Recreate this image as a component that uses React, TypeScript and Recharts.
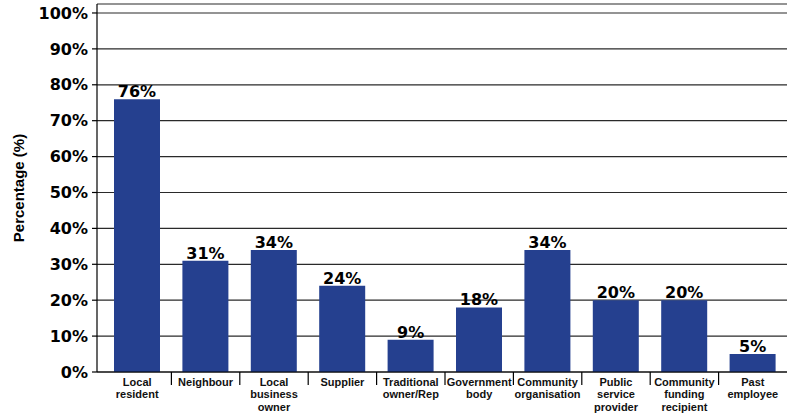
import React from 'react';
import { BarChart, Bar, XAxis, YAxis, CartesianGrid, LabelList } from 'recharts';

const categories = [
  'Local\nresident',
  'Neighbour',
  'Local\nbusiness\nowner',
  'Supplier',
  'Traditional\nowner/Rep',
  'Government\nbody',
  'Community\norganisation',
  'Public\nservice\nprovider',
  'Community\nfunding\nrecipient',
  'Past\nemployee',
];
const percentages = [76, 31, 34, 24, 9, 18, 34, 20, 20, 5];
const yTicks = [0, 10, 20, 30, 40, 50, 60, 70, 80, 90, 100];

const data = categories.map((c, i) => ({ category: c, value: percentages[i] }));

const W = 792;
const H = 414;
const MARGIN = { top: 4, right: 5, bottom: 12, left: 0 };
const X_HEIGHT = 30;
const Y_WIDTH = 97;
const PAD_LEFT = 6;
const BAND = (W - MARGIN.left - MARGIN.right - Y_WIDTH - PAD_LEFT) / categories.length;

const XTick = (props: any) => {
  const { x, y, payload, index } = props;
  const lines = String(payload.value).split('\n');
  return (
    <g>
      {index < categories.length - 1 && (
        <line x1={x + BAND / 2} x2={x + BAND / 2} y1={y} y2={y + 13} stroke="#000" strokeWidth={1.2} />
      )}
      <text
        x={x}
        y={y}
        textAnchor="middle"
        fontFamily="'Liberation Sans', Arial, sans-serif"
        fontWeight="bold"
        fontSize={11}
        fill="#111"
      >
        {lines.map((l: string, i: number) => (
          <tspan key={i} x={x} dy={i === 0 ? 14 : 12.4}>
            {l}
          </tspan>
        ))}
      </text>
    </g>
  );
};

const YTitle = () => {
  const cx = 18.5;
  const cy = 188;
  return (
    <text
      x={cx}
      y={cy}
      transform={`rotate(-90, ${cx}, ${cy})`}
      textAnchor="middle"
      dominantBaseline="central"
      fontFamily="'Liberation Sans', Arial, sans-serif"
      fontWeight="bold"
      fontSize={15}
      fill="#000"
    >
      Percentage (%)
    </text>
  );
};

export default function App() {
  return (
    <div style={{ position: 'absolute', left: 0, top: 0, width: W, height: H, background: '#fff' }}>
      <BarChart width={W} height={H} data={data} margin={MARGIN}>
        <CartesianGrid horizontal vertical={false} stroke="#2a2a2a" strokeWidth={1.2} />
        <XAxis
          dataKey="category"
          height={X_HEIGHT}
          interval={0}
          tick={<XTick />}
          tickLine={false}
          tickSize={0}
          tickMargin={0}
          axisLine={{ stroke: '#000', strokeWidth: 1.2 }}
          padding={{ left: PAD_LEFT, right: 0 }}
        />
        <YAxis
          width={Y_WIDTH}
          domain={[0, 102.5]}
          ticks={yTicks}
          interval={0}
          tickFormatter={(v: number) => `${v}%`}
          tickSize={5}
          tickMargin={4}
          tickLine={{ stroke: '#000', strokeWidth: 1.2 }}
          axisLine={{ stroke: '#000', strokeWidth: 1.2 }}
          tick={{ fontFamily: "'DejaVu Sans', sans-serif", fontWeight: 'bold', fontSize: 16, fill: '#000' }}
          label={<YTitle />}
        />
        <Bar dataKey="value" fill="#25408f" barSize={46} isAnimationActive={false}>
          <LabelList
            dataKey="value"
            position="top"
            offset={2}
            formatter={(v: any) => `${v}%`}
            style={{ fontFamily: "'DejaVu Sans', sans-serif", fontWeight: 'bold', fontSize: 16, fill: '#000' }}
          />
        </Bar>
      </BarChart>
    </div>
  );
}
